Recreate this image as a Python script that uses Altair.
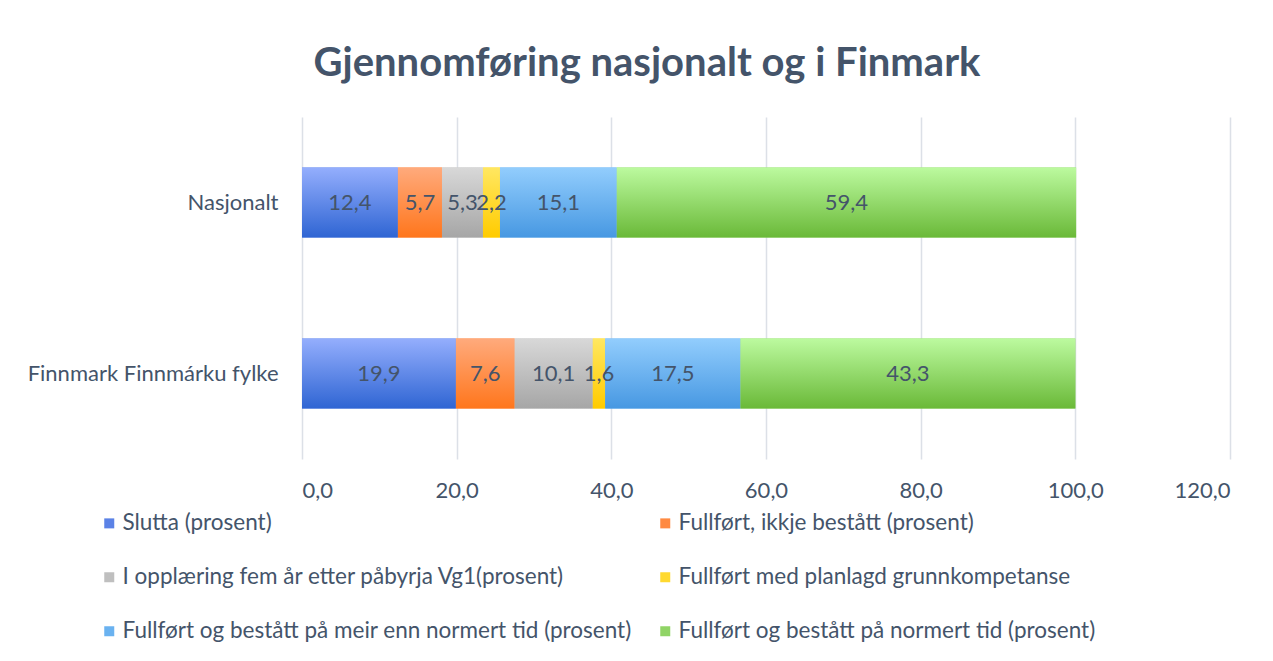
import altair as alt
import pandas as pd

categories = ["Nasjonalt", "Finnmark Finnmárku fylke"]
series = [
    "Slutta (prosent)",
    "Fullført, ikkje bestått (prosent)",
    "I opplæring fem år etter påbyrja Vg1(prosent)",
    "Fullført med planlagd grunnkompetanse",
    "Fullført og bestått på meir enn normert tid (prosent)",
    "Fullført og bestått på normert tid (prosent)",
]
nasjonalt = [12.4, 5.7, 5.3, 2.2, 15.1, 59.4]
finnmark = [19.9, 7.6, 10.1, 1.6, 17.5, 43.3]
x_ticks = [0, 20, 40, 60, 80, 100, 120]

top_colors = ["#94AEFD", "#FFAA7C", "#D8D8D8", "#FFE761", "#92CDFD", "#BCFA9F"]
bottom_colors = ["#2F65D3", "#FF761C", "#A6A6A6", "#FFCB00", "#4798E2", "#6AB938"]
mid_colors = ["#5B82E6", "#FF8A42", "#BFBFBF", "#FFD930", "#6AB2F0", "#90D466"]

rows = []
for cat, vals in zip(categories, [nasjonalt, finnmark]):
    for i, (s, v) in enumerate(zip(series, vals)):
        rows.append({"cat": cat, "series": s, "order": i, "value": v})
df = pd.DataFrame(rows)

FONT = "Lato"
TXT = "#44546A"

base = (
    alt.Chart(df)
    .transform_stack(stack="value", as_=["x0", "x1"], groupby=["cat"],
                     sort=[alt.SortField("order", order="ascending")])
    .transform_calculate(
        xm="(datum.x0 + datum.x1) / 2",
        lbl="replace(format(datum.value, '.1f'), '.', ',')",
    )
)

x_enc = alt.X(
    "x0:Q",
    title=None,
    scale=alt.Scale(domain=[0, 120], nice=False, zero=True),
    axis=alt.Axis(
        values=x_ticks,
        labelExpr="replace(format(datum.value, '.1f'), '.', ',')",
        domain=False, ticks=False, grid=True,
        gridColor="#DCE0E7", gridWidth=1.5,
        labelFont=FONT, labelFontSize=22, labelColor=TXT, labelPadding=21,
    ),
)
y_enc = alt.Y(
    "cat:N",
    title=None,
    sort=categories,
    scale=alt.Scale(paddingInner=0.591, paddingOuter=0.2955),
    axis=alt.Axis(
        domain=False, ticks=False, grid=False,
        labelFont=FONT, labelFontSize=22, labelColor=TXT, labelPadding=24,
        labelLimit=400,
    ),
)

legend_layer = base.mark_bar().encode(
    x=x_enc,
    x2="x1:Q",
    y=y_enc,
    color=alt.Color(
        "series:N",
        scale=alt.Scale(domain=series, range=mid_colors),
        legend=alt.Legend(
            title=None, orient="none", legendX=-204, legendY=395,
            columns=2, direction="horizontal",
            symbolType="square", symbolSize=100, symbolStrokeWidth=0,
            labelFont=FONT, labelFontSize=22.5, labelColor=TXT,
            labelOffset=2, labelLimit=700,
            rowPadding=31, columnPadding=22,
        ),
    ),
)

layers = [legend_layer]
for s, tc, bc in zip(series, top_colors, bottom_colors):
    grad = alt.Gradient(
        gradient="linear",
        stops=[alt.GradientStop(color=tc, offset=0),
               alt.GradientStop(color=bc, offset=1)],
        x1=0, x2=0, y1=0, y2=1,
    )
    layers.append(
        base.transform_filter(alt.datum.series == s)
        .mark_bar(color=grad)
        .encode(x="x0:Q", x2="x1:Q", y=alt.Y("cat:N", sort=categories))
    )

text_layer = base.mark_text(font=FONT, fontSize=22, color=TXT).encode(
    x="xm:Q", y=alt.Y("cat:N", sort=categories), text="lbl:N"
)
layers.append(text_layer)

chart = (
    alt.layer(*layers)
    .properties(
        width=928,
        height=342,
        padding={"left": 294, "top": 109, "right": 35, "bottom": 194},
        autosize=alt.AutoSizeParams(type="none"),
        title=alt.TitleParams(
            "Gjennomføring nasjonalt og i Finmark",
            font=FONT, fontSize=40, fontWeight="bold", color=TXT,
            anchor="middle", dx=-119, offset=35, dy=42, baseline="bottom",
        ),
    )
    .configure_view(stroke=None)
)

chart.save("out.html", embed_options={"renderer": "svg", "actions": False})
